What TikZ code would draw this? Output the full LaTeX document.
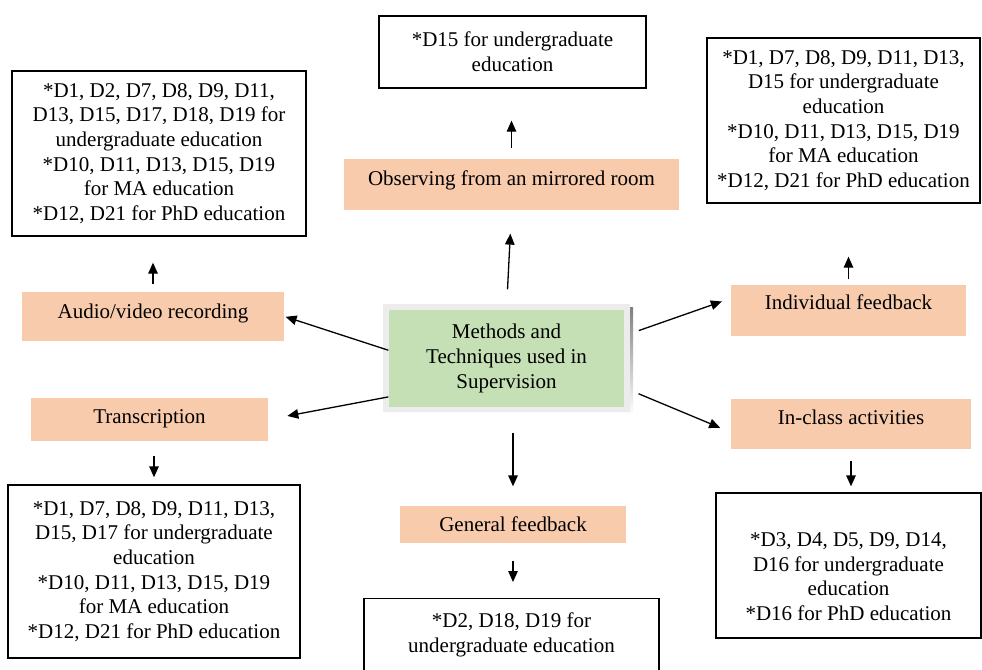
\documentclass[tikz,border=0pt]{standalone}
\usepackage{fontspec}
\setmainfont{Liberation Serif}
\usetikzlibrary{arrows.meta}
\definecolor{peach}{RGB}{248,203,173}
\definecolor{sage}{RGB}{197,224,180}
\definecolor{framegray}{RGB}{236,236,236}
\definecolor{shade}{RGB}{150,175,205}

\begin{document}
\begin{tikzpicture}[x=1pt,y=-1pt,inner sep=0pt,line width=1.3pt,
  font=\fontsize{21}{24.6}\selectfont,
  box/.style={draw,align=center},
  tech/.style={fill=peach,anchor=base},
  >={Triangle[length=11pt,width=9.5pt]}]

\useasboundingbox (0,0) rectangle (982,669);

% centre
\fill[shade] (386,307) rectangle (633,415);
\fill[framegray] (383,304) rectangle (630,412);
\node[fill=sage,align=center,minimum width=235,minimum height=97](ctr) at (506.5,358.5) {Methods and\\Techniques used in\\Supervision};

% techniques
\node[tech,minimum width=335,text height=26pt,text depth=25pt](obs) at (511.5,185) {Observing from an mirrored room};
\node[tech,minimum width=262,text height=26pt,text depth=23pt](audio) at (153,318) {Audio/video recording};
\node[tech,minimum width=237,text height=25pt,text depth=18pt](trans) at (149.5,423) {Transcription};
\node[tech,minimum width=226,text height=25pt,text depth=12pt](gen) at (513,531) {General feedback};
\node[tech,minimum width=235,text height=24pt,text depth=27pt](indiv) at (848.5,309) {Individual feedback};
\node[tech,minimum width=240,text height=25pt,text depth=25pt](inclass) at (851,424) {In-class activities};

% data sources
\node[box,minimum width=267,minimum height=72](d15) at (512.5,52) {*D15 for undergraduate\\education};
\node[box,minimum width=294,minimum height=165](ltop) at (159,153.5) {*D1, D2, D7, D8, D9, D11,\\D13, D15, D17, D18, D19 for\\undergraduate education\\*D10, D11, D13, D15, D19\\for MA education\\*D12, D21 for PhD education};
\node[box,minimum width=292,minimum height=173](lbot) at (154,571.5) {*D1, D7, D8, D9, D11, D13,\\D15, D17 for undergraduate\\education\\*D10, D11, D13, D15, D19\\for MA education\\*D12, D21 for PhD education};
\node[box,anchor=north,inner ysep=14pt,minimum width=295,text depth=60pt](bbot) at (511.5,598) {*D2, D18, D19 for\\undergraduate education};
\node[box,minimum width=273,minimum height=165](rtop) at (843.5,120.5) {*D1, D7, D8, D9, D11, D13,\\D15 for undergraduate\\education\\*D10, D11, D13, D15, D19\\for MA education\\*D12, D21 for PhD education};
\node[box,minimum width=265,minimum height=145](rbot) at (848.5,565.5) {\rule{0pt}{36pt}*D3, D4, D5, D9, D14,\\D16 for undergraduate\\education\\*D16 for PhD education};

% from the centre
\draw[->,shorten <=20pt,shorten >=23pt] (ctr.north) -- (obs.south);
\draw[->,shorten >=1pt] (ctr.176) -- (audio.east);
\draw[->,shorten >=19pt] (ctr.198) -- (trans.east);
\draw[->,shorten <=25pt,shorten >=19pt] (gen.north |- ctr.south) -- (gen.north);
\draw[->,shorten <=15pt,shorten >=9pt] (ctr.11) -- ([yshift=12pt]indiv.west);
\draw[->,shorten <=15pt,shorten >=11pt] (ctr.346) -- ([yshift=-8pt]inclass.west);

% to the sources
\draw[->,shorten <=10pt,shorten >=32pt] (obs.north) -- (obs.north |- d15.south);
\draw[->,shorten <=7pt,shorten >=26pt] (audio.north) -- (audio.north |- ltop.south);
\draw[->,shorten <=14pt,shorten >=7pt] (lbot.north |- trans.south) -- (lbot.north);
\draw[->,shorten <=17pt,shorten >=16pt] (gen.south) -- (gen.south |- bbot.north);
\draw[->,shorten <=5pt,shorten >=53pt] (indiv.north) -- (indiv.north |- rtop.south);
\draw[->,shorten <=11pt,shorten >=6pt] (inclass.south) -- (inclass.south |- rbot.north);

\end{tikzpicture}
\end{document}
